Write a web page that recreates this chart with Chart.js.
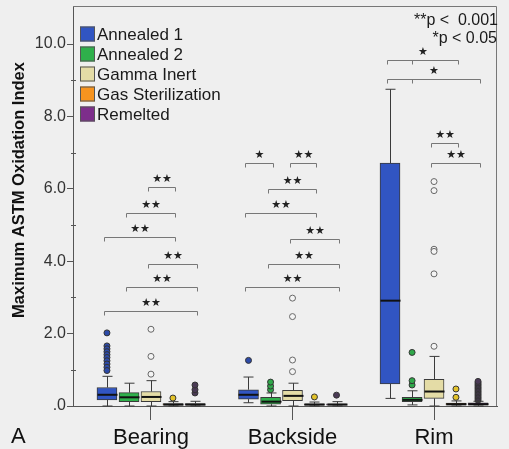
<!DOCTYPE html>
<html>
<head>
<meta charset="utf-8">
<script src="https://cdn.jsdelivr.net/npm/chart.js@4.4.1/dist/chart.umd.min.js"></script>
<style>
  html, body { margin: 0; padding: 0; background: #efefef; }
  #wrap { width: 509px; height: 449px; }
</style>
</head>
<body>
<div id="wrap"><canvas id="myChart" width="509" height="449"></canvas></div>
<script>
/* data */
var groups = ['Bearing', 'Backside', 'Rim'];
var seriesNames = ['Annealed 1', 'Annealed 2', 'Gamma Inert', 'Gas Sterilization', 'Remelted'];
var seriesColors = ['#3155c2', '#2fb04b', '#e4dca6', '#f7941f', '#7d2e8b'];
var pointColors = ['#2c4aa8', '#2fa84a', '#f4f4f4', '#e2c22a', '#4a3a55'];

// [lower whisker, q1, median, q3, upper whisker] for Bearing, Backside, Rim
var annealed1 = [[0.0, 0.17, 0.31, 0.51, 0.82], [0.09, 0.19, 0.31, 0.45, 0.80], [0.21, 0.61, 2.91, 6.71, 8.75]];
var annealed2 = [[0.0, 0.12, 0.24, 0.37, 0.63], [0.0, 0.05, 0.12, 0.24, 0.36], [0.03, 0.12, 0.17, 0.24, 0.42]];
var gammaInert = [[0.0, 0.12, 0.25, 0.40, 0.70], [0.0, 0.15, 0.28, 0.43, 0.63], [0.0, 0.21, 0.40, 0.74, 1.37]];
var gasSter = [[0.0, 0.02, 0.04, 0.07, 0.12], [0.0, 0.02, 0.04, 0.06, 0.11], [0.0, 0.02, 0.05, 0.08, 0.14]];
var remelted = [[0.0, 0.02, 0.04, 0.07, 0.13], [0.0, 0.02, 0.04, 0.06, 0.12], [0.0, 0.02, 0.05, 0.09, 0.13]];

var outliers1 = [[2.02, 1.66, 1.58, 1.50, 1.42, 1.34, 1.25, 1.16, 1.07, 0.98], [1.26], []];
var outliers2 = [[], [0.45, 0.55, 0.66], [0.58, 0.70, 1.48]];
var outliersG = [[2.12, 1.37, 0.88], [2.98, 2.47, 1.27, 0.95], [6.20, 5.95, 4.33, 4.27, 3.65, 1.65]];
var outliersS = [[0.22], [0.25], [0.24, 0.47]];
var outliersR = [[0.36, 0.45, 0.58], [0.30], [0.16, 0.20, 0.24, 0.28, 0.32, 0.36, 0.40, 0.44, 0.48, 0.52, 0.56, 0.60, 0.64, 0.68]];

// significance: [group, from series, to series, y value, label, middle tick series]
var brackets = [
  [0, 2, 3, 6.06, '**'], [0, 1, 3, 5.34, '**'], [0, 0, 3, 4.66, '**'],
  [0, 2, 4, 3.92, '**'], [0, 1, 4, 3.28, '**'], [0, 0, 4, 2.62, '**'],
  [1, 0, 1, 6.70, '*'], [1, 2, 3, 6.70, '**'], [1, 1, 3, 5.99, '**'], [1, 0, 3, 5.32, '**'],
  [1, 2, 4, 4.60, '**'], [1, 1, 4, 3.92, '**'], [1, 0, 4, 3.30, '**'],
  [2, 0, 3, 9.56, '*', 1], [2, 0, 4, 9.03, '*', 1], [2, 2, 3, 7.26, '**'], [2, 2, 4, 6.70, '**']
];

var yLabelTicks = [0, 2, 4, 6, 8, 10];
var yMinorTicks = [1, 3, 5, 7, 9];

var stats = [annealed1, annealed2, gammaInert, gasSter, remelted];
var outliers = [outliers1, outliers2, outliersG, outliersS, outliersR];
var offsets = [-0.311, -0.155, 0, 0.155, 0.311];

var datasets = [];
stats.forEach(function (s, si) {
  datasets.push({
    type: 'bar',
    label: seriesNames[si],
    data: s.map(function (g, gi) { return { x: gi + offsets[si], y: [g[1], g[3]] }; }),
    backgroundColor: seriesColors[si],
    borderColor: '#3a3a3a',
    borderWidth: 1,
    borderSkipped: false,
    barThickness: 20,
    grouped: false
  });
});
outliers.forEach(function (o, si) {
  var pts = [];
  o.forEach(function (list, gi) {
    list.forEach(function (v) { pts.push({ x: gi + offsets[si], y: v }); });
  });
  datasets.push({
    type: 'scatter',
    data: pts,
    backgroundColor: pointColors[si],
    borderColor: si === 2 ? '#666' : '#333',
    borderWidth: 1,
    pointRadius: 3
  });
});

/* extras: whiskers, medians, brackets, legend, texts */
var extras = {
  id: 'extras',
  afterDatasetsDraw: function (chart) {
    var ctx = chart.ctx, xs = chart.scales.x, ys = chart.scales.y, a = chart.chartArea;
    ctx.save();
    // frame
    ctx.strokeStyle = '#777';
    ctx.lineWidth = 1;
    ctx.beginPath();
    ctx.moveTo(a.left, a.top + 0.5);
    ctx.lineTo(a.right - 0.5, a.top + 0.5);
    ctx.lineTo(a.right - 0.5, a.bottom);
    ctx.stroke();
    // minor y ticks
    ctx.strokeStyle = '#555';
    yMinorTicks.forEach(function (v) {
      var y = Math.round(ys.getPixelForValue(v)) + 0.5;
      ctx.beginPath();
      ctx.moveTo(a.left - 2, y);
      ctx.lineTo(a.left + 3, y);
      ctx.stroke();
    });
    // whiskers + medians
    stats.forEach(function (s, si) {
      s.forEach(function (g, gi) {
        var x = Math.round(xs.getPixelForValue(gi + offsets[si])) + 0.5;
        ctx.strokeStyle = '#3a3a3a';
        ctx.lineWidth = 1;
        var lo = ys.getPixelForValue(g[0]), q1 = ys.getPixelForValue(g[1]);
        var q3 = ys.getPixelForValue(g[3]), hi = ys.getPixelForValue(g[4]);
        ctx.beginPath();
        ctx.moveTo(x, q3); ctx.lineTo(x, hi);
        ctx.moveTo(x - 5, hi); ctx.lineTo(x + 5, hi);
        if (g[0] < g[1]) {
          ctx.moveTo(x, q1); ctx.lineTo(x, lo);
          ctx.moveTo(x - 5, lo); ctx.lineTo(x + 5, lo);
        }
        ctx.stroke();
        ctx.strokeStyle = '#111';
        ctx.lineWidth = 2;
        var m = ys.getPixelForValue(g[2]);
        ctx.beginPath();
        ctx.moveTo(x - 10, m); ctx.lineTo(x + 10, m);
        ctx.stroke();
      });
    });
    // brackets
    ctx.lineWidth = 1;
    brackets.forEach(function (b) {
      var x1 = Math.round(xs.getPixelForValue(b[0] + offsets[b[1]])) - 2.5;
      var x2 = Math.round(xs.getPixelForValue(b[0] + offsets[b[2]])) + 2.5;
      var y = Math.round(ys.getPixelForValue(b[3])) + 0.5;
      ctx.strokeStyle = '#777';
      ctx.beginPath();
      ctx.moveTo(x1, y + 4); ctx.lineTo(x1, y); ctx.lineTo(x2, y); ctx.lineTo(x2, y + 4);
      if (b[5] !== undefined) {
        var xm = Math.round(xs.getPixelForValue(b[0] + offsets[b[5]])) + 0.5;
        ctx.moveTo(xm, y); ctx.lineTo(xm, y + 4);
      }
      ctx.stroke();
      ctx.fillStyle = '#222';
      ctx.font = '11px "DejaVu Sans"';
      ctx.textAlign = 'center';
      ctx.textBaseline = 'middle';
      ctx.fillText(b[4] === '**' ? '\u2605\u2605' : '\u2605', (x1 + x2) / 2, y - 8);
    });
    // legend
    ctx.font = '17px "Liberation Sans", Arial';
    ctx.textAlign = 'left';
    ctx.textBaseline = 'middle';
    seriesNames.forEach(function (n, i) {
      var cy = 34 + i * 20;
      ctx.fillStyle = seriesColors[i];
      ctx.fillRect(80, cy - 7.5, 15, 15);
      ctx.strokeStyle = '#555';
      ctx.strokeRect(80.5, cy - 7, 14, 14);
      ctx.fillStyle = '#1a1a1a';
      ctx.fillText(n, 97, cy + 1);
    });
    // p-value notes
    ctx.textAlign = 'right';
    ctx.textBaseline = 'alphabetic';
    ctx.font = '16px "Liberation Sans", Arial';
    ctx.fillText('**p <  0.001', 498, 25);
    ctx.fillText('*p < 0.05', 497, 43);
    // axis title
    ctx.save();
    ctx.translate(19, 190);
    ctx.rotate(-Math.PI / 2);
    ctx.textAlign = 'center';
    ctx.textBaseline = 'middle';
    ctx.font = 'bold 16.5px "Liberation Sans", Arial';
    ctx.fillStyle = '#111';
    ctx.fillText('Maximum ASTM Oxidation Index', 0, 0);
    ctx.restore();
    // panel letter
    ctx.textAlign = 'left';
    ctx.font = '22px "Liberation Sans", Arial';
    ctx.fillStyle = '#111';
    ctx.fillText('A', 11, 443);
    ctx.restore();
  }
};

var ctx = document.getElementById('myChart').getContext('2d');
new Chart(ctx, {
  type: 'bar',
  data: { datasets: datasets },
  options: {
    responsive: false,
    animation: false,
    layout: { padding: { top: 6, right: 12, left: 0, bottom: 0 } },
    plugins: { legend: { display: false }, tooltip: { enabled: false } },
    scales: {
      x: {
        type: 'linear',
        min: -0.551,
        max: 2.445,
        offset: false,
        afterBuildTicks: function (scale) {
          scale.ticks = groups.map(function (g, i) { return { value: i }; });
        },
        afterFit: function (scale) { scale.height = 43; },
        ticks: {
          autoSkip: false,
          maxRotation: 0,
          padding: 5,
          color: '#111',
          font: { family: '"Liberation Sans", Arial', size: 22 },
          callback: function (v) { return groups[v]; }
        },
        grid: { offset: false, drawOnChartArea: false, drawTicks: true, tickLength: 14, color: '#555' },
        border: { color: '#555' }
      },
      y: {
        min: 0,
        max: 11.05,
        afterBuildTicks: function (scale) {
          scale.ticks = yLabelTicks.map(function (v) { return { value: v }; });
        },
        afterFit: function (scale) {
          scale.width = 73;
          scale.paddingTop = 0;
          scale.paddingBottom = 0;
        },
        ticks: {
          padding: 1,
          color: '#333',
          font: { family: '"Liberation Sans", Arial', size: 16 },
          callback: function (v) { return v === 0 ? '.0' : v.toFixed(1); }
        },
        grid: { drawOnChartArea: false, drawTicks: true, tickLength: 6, color: '#555' },
        border: { color: '#555' }
      }
    }
  },
  plugins: [extras]
});
</script>
</body>
</html>
